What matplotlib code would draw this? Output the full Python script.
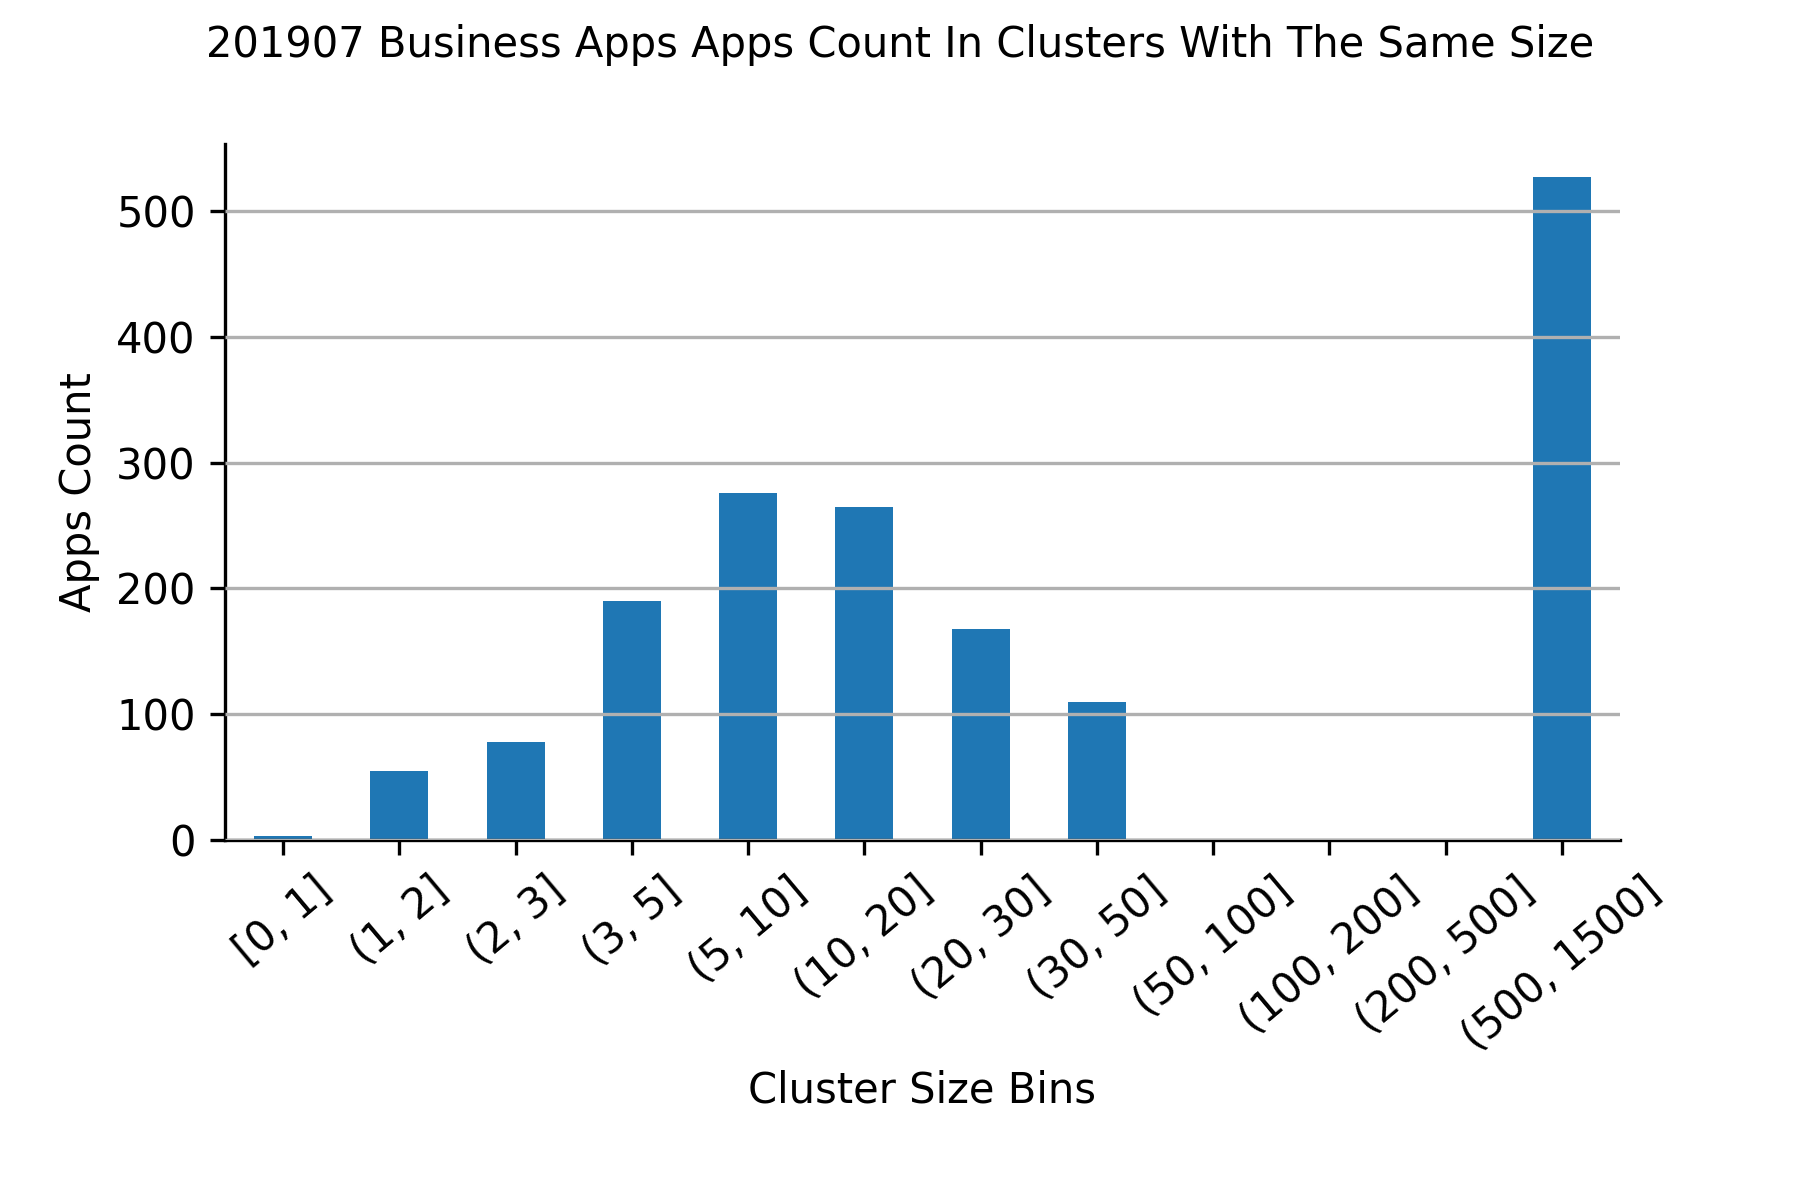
import matplotlib
matplotlib.use("Agg")
import matplotlib.pyplot as plt
import numpy as np

categories = ["[0, 1]", "(1, 2]", "(2, 3]", "(3, 5]", "(5, 10]", "(10, 20]",
              "(20, 30]", "(30, 50]", "(50, 100]", "(100, 200]", "(200, 500]", "(500, 1500]"]
apps_count = [3, 55, 78, 190, 276, 265, 168, 110, 0, 0, 0, 527]
title = "201907 Business Apps Apps Count In Clusters With The Same Size"

fig = plt.figure(figsize=(6, 4), dpi=300)
ax = fig.add_axes([0.125, 0.3, 0.775, 0.58])
x = np.arange(len(categories))
ax.bar(x, apps_count, width=0.5, color="#1f77b4", zorder=1)
ax.set_xlim(-0.5, len(categories) - 0.5)
ax.set_ylim(0, max(apps_count) * 1.05)
ax.set_xticks(x)
ax.set_xticklabels(categories, rotation=40, ha="center", fontsize=10)
ax.tick_params(axis="y", labelsize=10)
ax.yaxis.grid(True, color="#b0b0b0", linewidth=0.8, zorder=3)
ax.set_axisbelow(False)
for s in ["top", "right"]:
    ax.spines[s].set_visible(False)
ax.set_xlabel("Cluster Size Bins", fontsize=10, labelpad=2.6)
ax.set_ylabel("Apps Count", fontsize=10)
fig.suptitle(title, fontsize=10)
fig.savefig("out.png", dpi=300)
